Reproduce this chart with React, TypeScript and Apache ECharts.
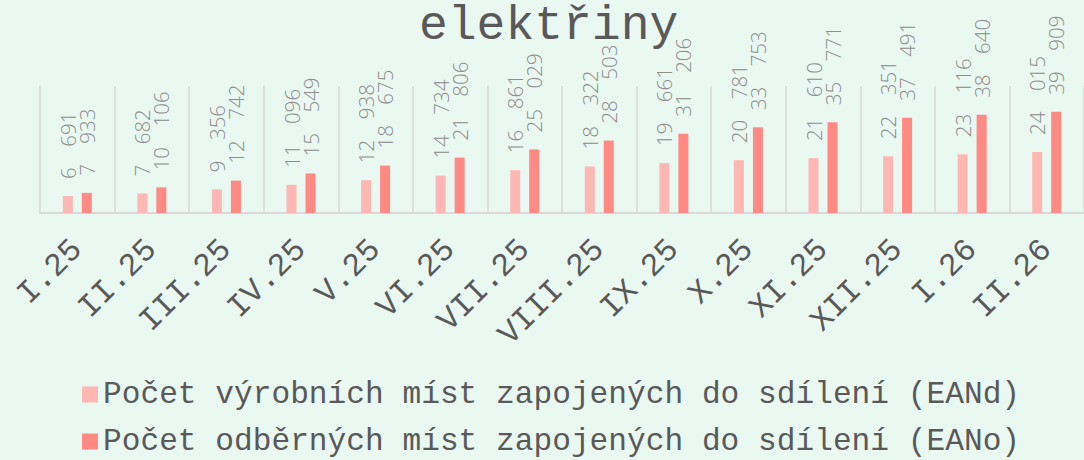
import React, { useEffect, useRef } from "react";
import * as echarts from "echarts";

const categories = ["I.25", "II.25", "III.25", "IV.25", "V.25", "VI.25", "VII.25", "VIII.25", "IX.25", "X.25", "XI.25", "XII.25", "I.26", "II.26"];
const seriesNames = [
  "Počet výrobních míst zapojených do sdílení (EANd)",
  "Počet odběrných míst zapojených do sdílení (EANo)",
];
const eanD = [6691, 7682, 9356, 11096, 12938, 14734, 16861, 18322, 19661, 20781, 21610, 22351, 23116, 24015];
const eanO = [7933, 10106, 12742, 15549, 18675, 21806, 25029, 28503, 31206, 33753, 35771, 37491, 38640, 39909];
const titleText = "elektřiny";

const colors = ["#ffb7b3", "#ff8a84"];

// thousands separated by a wide space, as in the reference
const fmt = (v: number) => String(v).replace(/\B(?=(\d{3})+(?!\d))/g, "\u2003");

export default function App() {
  const ref = useRef<HTMLDivElement>(null);
  useEffect(() => {
    if (!ref.current) return;
    const chart = echarts.init(ref.current, undefined, { renderer: "svg" });
    const labelCfg = {
      show: true,
      position: "top",
      rotate: 90,
      align: "left",
      verticalAlign: "middle",
      distance: 17,
      fontFamily: "Open Sans",
      fontWeight: 300,
      fontSize: 20.5,
      color: "#8c8c8c",
      formatter: (p: any) => fmt(p.value),
    };
    chart.setOption({
      animation: false,
      backgroundColor: "#e9f8f1",
      title: {
        text: titleText,
        left: 419,
        top: 2,
        padding: 0,
        textStyle: { fontFamily: "Liberation Mono", fontSize: 48, fontWeight: "normal", color: "#595959" },
      },
      legend: {
        orient: "vertical",
        left: 82,
        top: 379,
        height: 100,
        padding: 0,
        itemWidth: 16,
        itemHeight: 16,
        itemGap: 16,
        icon: "rect",
        data: seriesNames,
        textStyle: { fontFamily: "Liberation Mono", fontSize: 31.2, lineHeight: 30, color: "#595959" },
      },
      grid: { left: 40, right: -11, top: 86, bottom: 247, containLabel: false },
      xAxis: {
        type: "category",
        data: categories,
        axisLine: { lineStyle: { color: "#d9d9d9", width: 2 } },
        axisTick: { show: false },
        splitLine: { show: true, interval: 0, lineStyle: { color: "#d9d9d9", width: 1.5 } },
        axisLabel: { interval: 0, rotate: 45, margin: 32, fontFamily: "Liberation Mono", fontSize: 32, color: "#595959" },
      },
      yAxis: { type: "value", min: 0, max: 50000, show: false, splitLine: { show: false } },
      series: [
        { name: seriesNames[0], type: "bar", data: eanD, barWidth: 10, barGap: "90%", itemStyle: { color: colors[0] }, label: labelCfg },
        { name: seriesNames[1], type: "bar", data: eanO, barWidth: 10, barGap: "90%", itemStyle: { color: colors[1] }, label: labelCfg },
      ],
    });
    return () => chart.dispose();
  }, []);
  return <div ref={ref} style={{ position: "fixed", left: 0, top: 0, width: 1084, height: 460 }} />;
}
